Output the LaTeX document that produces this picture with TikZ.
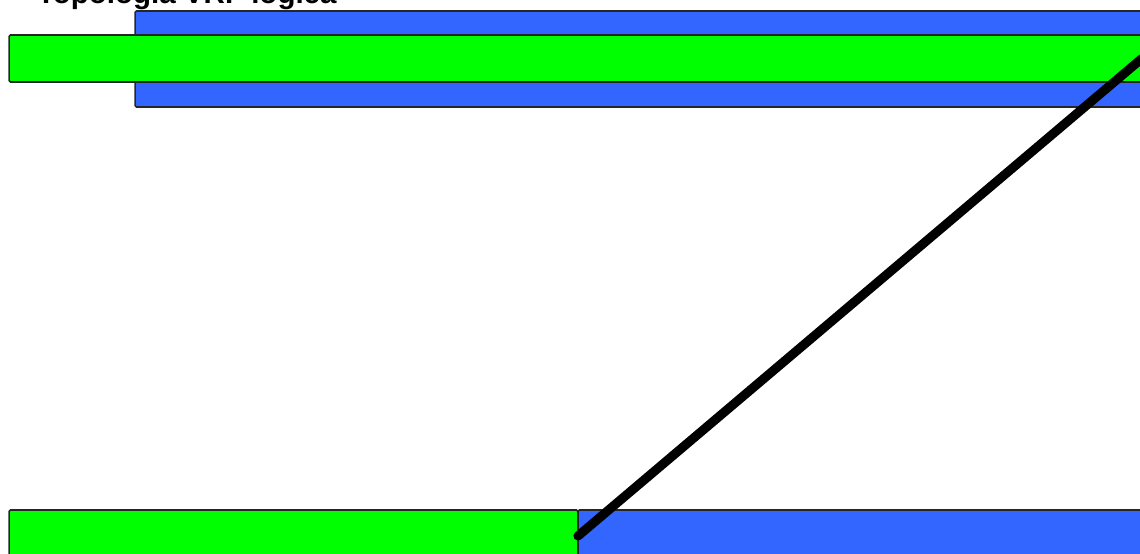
\documentclass[tikz,border=0pt]{standalone}
\usepackage{fontspec}
\setmainfont{Liberation Sans}
\usepackage{tikz}
\usepackage{xcolor}
\usetikzlibrary{positioning}

\definecolor{vrfgreen}{RGB}{0,255,0}
\definecolor{vrfblue}{RGB}{51,102,255}

\begin{document}
\begin{tikzpicture}[
  x=0.02cm, y=-0.02cm,
  every node/.style={inner sep=0pt, outer sep=0pt},
  box/.style={draw=black!85, line width=0.9pt, rounded corners=0.8pt, fill=#1},
  link/.style={line width=5.2pt, line cap=round, black}
]
\useasboundingbox (0,0) rectangle (1140,554);

% titulo
\node[anchor=base west, font=\bfseries\fontsize{16.8}{18}\selectfont] (title) at (37,4) {Topologia VRF lógica};

% faixas de cima
\node[box=vrfblue,  minimum width=20.2cm,  minimum height=1.92cm] (blueA)  at (640,59) {};
\node[box=vrfgreen, minimum width=22.66cm, minimum height=0.94cm] (greenA) at (575.5,58.5) {};

% faixas de baixo
\node[box=vrfgreen, minimum width=11.38cm, minimum height=1.04cm] (greenB) at (293.5,536) {};
\node[box=vrfblue,  minimum width=11.34cm, minimum height=1.04cm] (blueB)  at (861.5,536) {};

\draw[link] (greenB.east) -- (greenA.east);
\end{tikzpicture}
\end{document}
